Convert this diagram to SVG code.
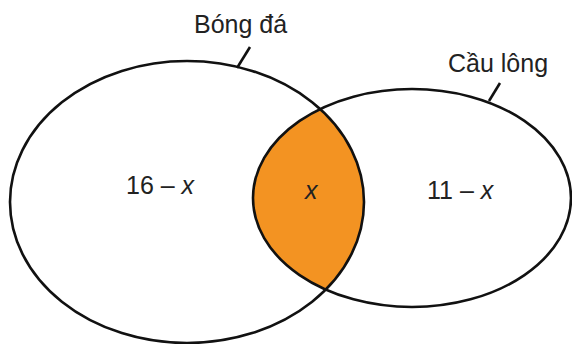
<svg xmlns="http://www.w3.org/2000/svg" width="572" height="344" viewBox="0 0 572 344">
<style>
.ring{fill:none;stroke:#111;stroke-width:2.6}
.lbl{font-family:"Liberation Sans",Arial,sans-serif;font-size:25px;fill:#222}
.num{font-family:"Liberation Sans",Arial,sans-serif;font-size:25px;fill:#222}
.tick{stroke:#111;stroke-width:2.6;fill:none}
</style>
<defs>
<clipPath id="clipLeft"><ellipse cx="187" cy="202" rx="177" ry="141"/></clipPath>
</defs>
<g id="intersection">
<ellipse cx="412" cy="198" rx="159" ry="109" fill="#F39322" clip-path="url(#clipLeft)"/>
</g>
<g id="bongda">
<ellipse class="ring" cx="187" cy="202" rx="177" ry="141"/>
<text class="lbl" x="194" y="33">Bóng đá</text>
<text class="num" x="126" y="194">16 – <tspan font-style="italic">x</tspan></text>
</g>
<g id="caulong">
<ellipse class="ring" cx="412" cy="198" rx="159" ry="109"/>
<text class="lbl" x="448" y="72">Cầu lông</text>
<text class="num" x="427" y="199">11 – <tspan font-style="italic">x</tspan></text>
</g>
<g id="center">
<text class="num" x="305" y="199" font-style="italic">x</text>
</g>
<g id="connectors">
<line class="tick" x1="250" y1="47" x2="237" y2="68"/>
<line class="tick" x1="500" y1="83" x2="489" y2="101"/>
</g>
</svg>
